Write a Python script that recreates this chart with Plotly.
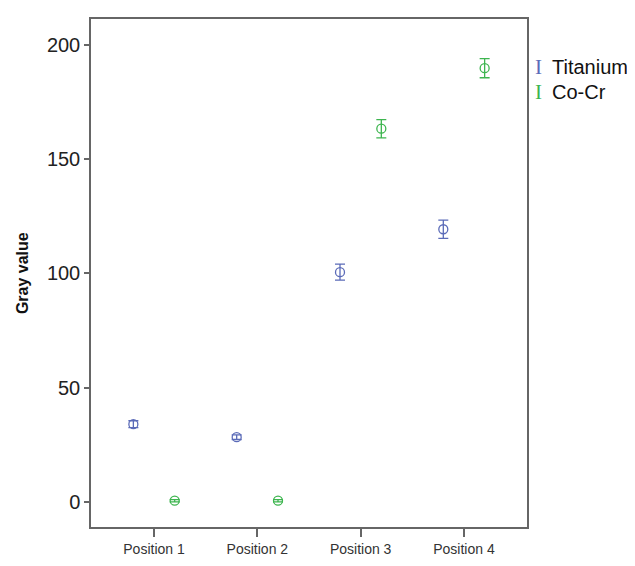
import plotly.graph_objects as go

categories = ["Position 1", "Position 2", "Position 3", "Position 4"]
cat_x = [1, 2, 3, 4]
titanium_mean = [34.0, 28.3, 100.5, 119.3]
titanium_err = [1.5, 1.0, 3.5, 4.0]
cocr_mean = [0.5, 0.5, 163.3, 189.8]
cocr_err = [0.5, 0.5, 4.0, 4.2]

ti_color = "#5b6bb8"
co_color = "#3db54f"
offset = 0.2

fig = go.Figure()
fig.add_trace(go.Scatter(
    x=[v - offset for v in cat_x], y=titanium_mean, mode="markers", name="Titanium",
    marker=dict(symbol="circle-open", size=9, color=ti_color, line=dict(width=1.3)),
    error_y=dict(type="data", array=titanium_err, color=ti_color, thickness=1.3, width=5),
    showlegend=False))
fig.add_trace(go.Scatter(
    x=[v + offset for v in cat_x], y=cocr_mean, mode="markers", name="Co-Cr",
    marker=dict(symbol="circle-open", size=9, color=co_color, line=dict(width=1.3)),
    error_y=dict(type="data", array=cocr_err, color=co_color, thickness=1.3, width=5),
    showlegend=False))

font = "Liberation Sans, Arial, sans-serif"
fig.update_layout(
    width=627, height=558,
    margin=dict(l=83, r=108, t=9, b=32),
    plot_bgcolor="white", paper_bgcolor="white",
    font=dict(family=font, color="#222"),
    xaxis=dict(range=[0.39, 4.61], tickvals=cat_x, ticktext=categories,
               showgrid=False, zeroline=False, showline=True, mirror=True,
               linecolor="#666", linewidth=1.5, ticks="outside", ticklen=8,
               tickcolor="#666", tickwidth=1.5, tickfont=dict(size=14, color="#333")),
    yaxis=dict(range=[-11, 211.3], tickvals=[0, 50, 100, 150, 200],
               showgrid=False, zeroline=False, showline=True, mirror=True,
               linecolor="#666", linewidth=1.5, ticks="outside", ticklen=5,
               tickcolor="#666", tickwidth=1.5, tickfont=dict(size=20, color="#222")),
)

fig.add_annotation(
    xref="paper", yref="paper", x=-0.158, y=0.5, xanchor="center", yanchor="middle",
    text="<b>Gray value</b>", textangle=-90, showarrow=False,
    font=dict(size=16, color="#111", family=font))

legend_items = [("Titanium", ti_color), ("Co-Cr", co_color)]
for i, (name, col) in enumerate(legend_items):
    ly = 0.905 - i * 0.048
    fig.add_annotation(
        xref="paper", yref="paper", x=1.0275, y=ly, xanchor="center", yanchor="middle",
        text="I", showarrow=False,
        font=dict(size=21, color=col, family="Liberation Serif, serif"))
    fig.add_annotation(
        xref="paper", yref="paper", x=1.052, y=ly, xanchor="left", yanchor="middle",
        text=name, showarrow=False, font=dict(size=20, color="#111", family=font))

fig.write_html("out.html")
